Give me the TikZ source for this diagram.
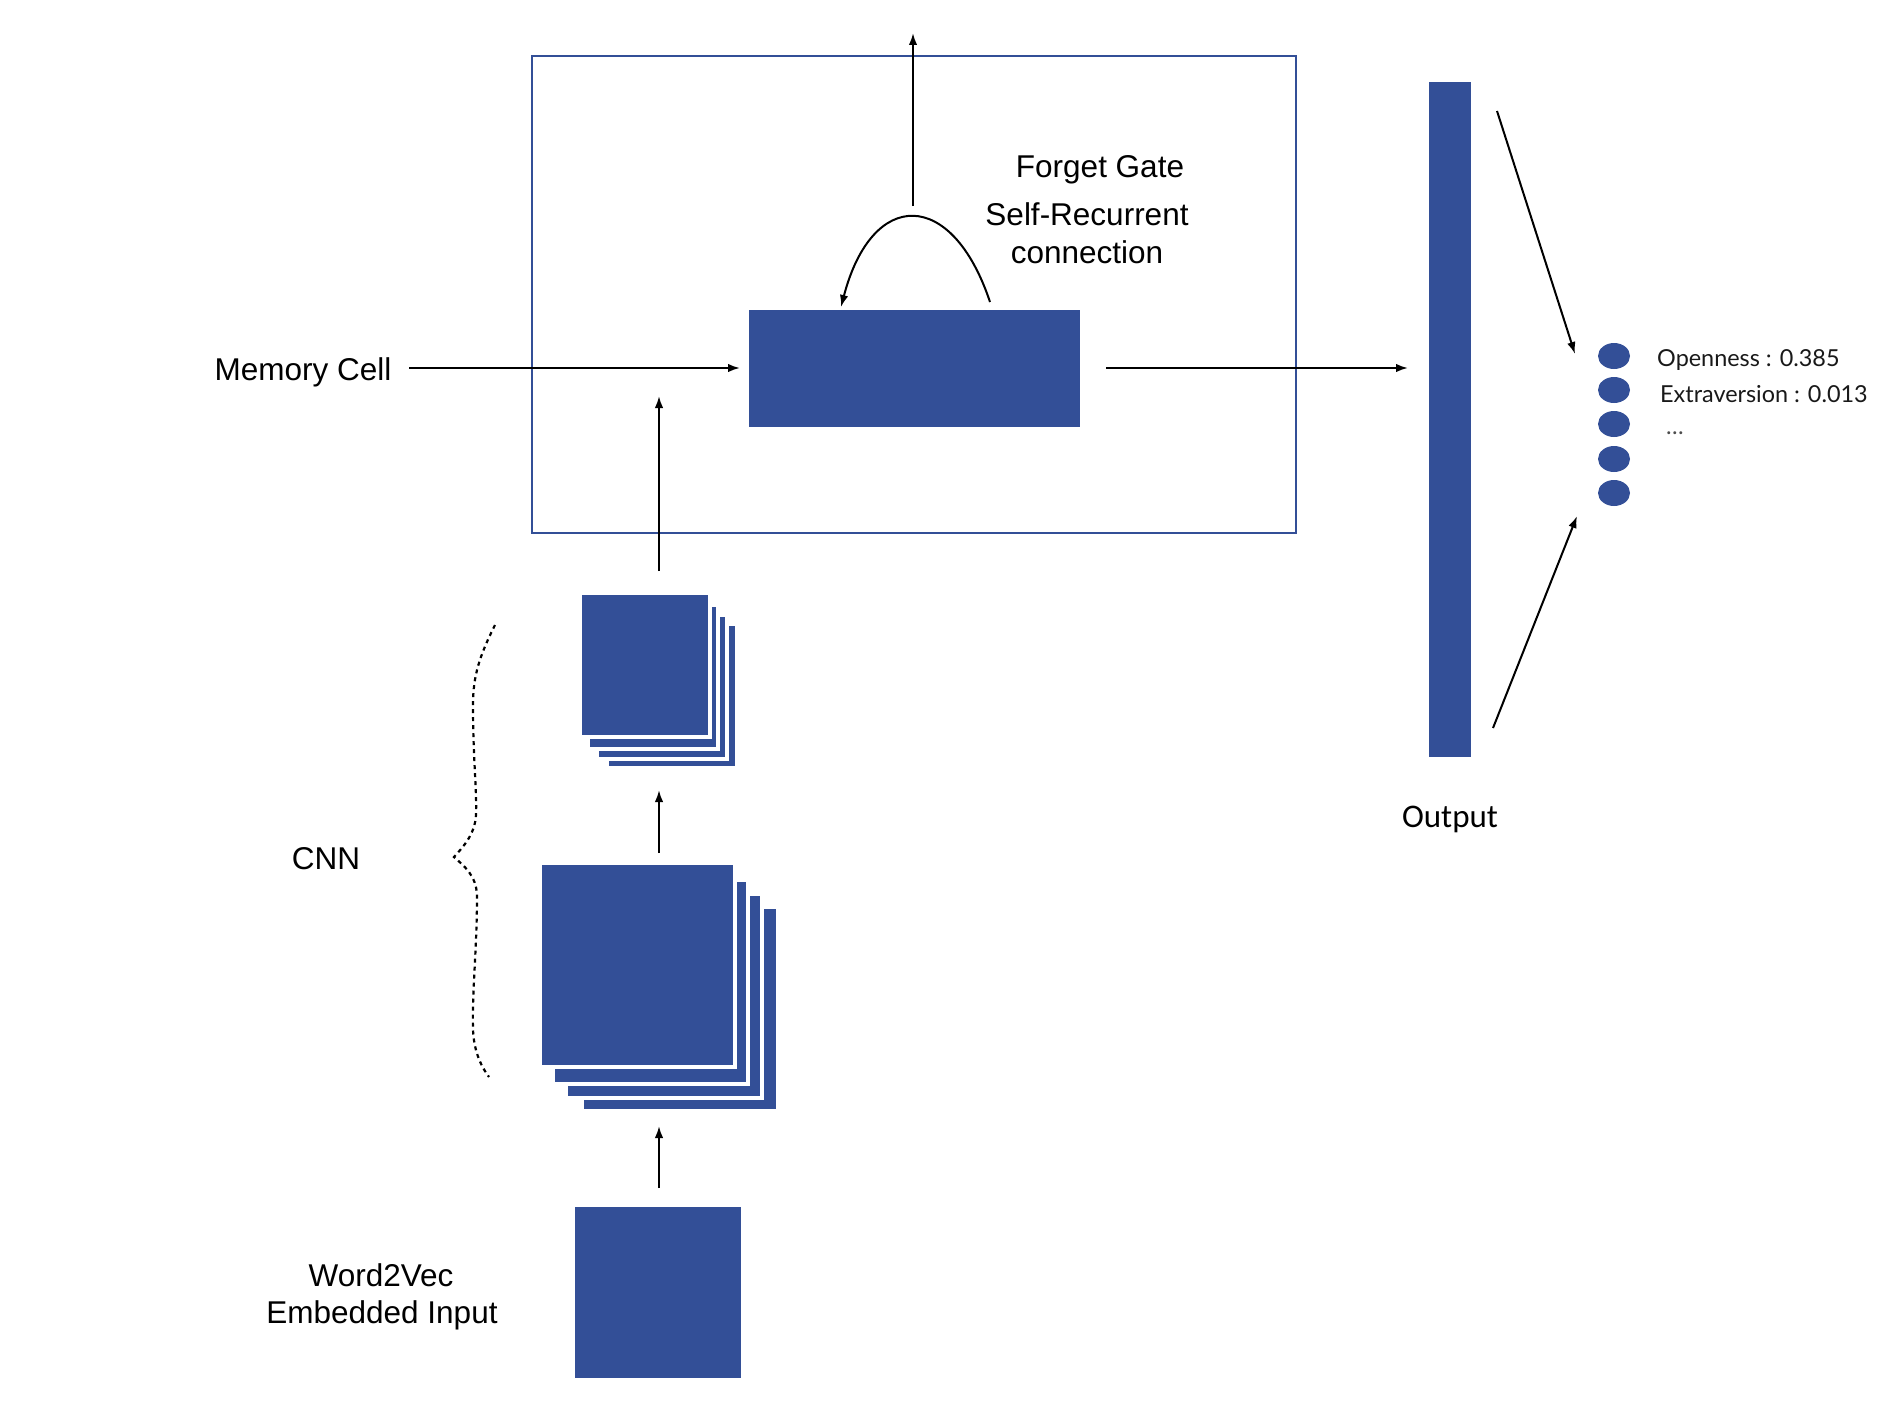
\documentclass[tikz,border=0pt]{standalone}
\usepackage{fontspec}
\setmainfont{Liberation Sans}
\newfontfamily\latofont{Lato}
\newfontfamily\carlitofont{Carlito}
\usetikzlibrary{arrows.meta,shapes.geometric}
\definecolor{cblue}{RGB}{51,79,151}
\tikzset{
  blk/.style={fill=cblue, inner sep=0pt, outer sep=0pt},
  layer/.style={fill=cblue, draw=white, line width=4pt, inner sep=0pt, outer sep=0pt},
  lbl/.style={inner sep=0pt, anchor=base, font=\fontsize{31.5}{37}\selectfont},
  small/.style={inner sep=0pt, anchor=base west, font=\latofont\fontsize{23.4}{28}\selectfont, text=black!90},
  arr/.style={line width=2pt, -{Latex[length=12pt,width=8.5pt]}},
  dot/.style={ellipse, fill=cblue, inner sep=0pt, minimum width=32pt, minimum height=26pt},
}
\begin{document}
\begin{tikzpicture}[x=1pt,y=-1pt]
\useasboundingbox (0,0) rectangle (1892,1418);
% LSTM box
\node[draw=cblue, line width=2pt, inner sep=0pt, minimum width=764pt, minimum height=477pt] (lstm) at (914,294.5) {};
% memory block
\node[blk, minimum width=331pt, minimum height=117pt] (mem) at (914.5,368.5) {};
% output bar
\node[blk, minimum width=42pt, minimum height=675pt] (out) at (1450,419.5) {};
% input square
\node[blk, minimum width=166pt, minimum height=171pt] (inp) at (658,1292.5) {};
% large stack (back to front)
\node[layer, minimum width=196pt, minimum height=204pt] (bl3) at (680,1009) {};
\node[layer, minimum width=196pt, minimum height=204pt] (bl2) at (664,996) {};
\node[layer, minimum width=195pt, minimum height=204pt] (bl1) at (650.5,982) {};
\node[layer, minimum width=195pt, minimum height=204pt] (bl0) at (637.5,965) {};
% small stack (back to front)
\node[layer, minimum width=130pt, minimum height=144pt] (sl3) at (672,696) {};
\node[layer, minimum width=130pt, minimum height=144pt] (sl2) at (662,687) {};
\node[layer, minimum width=130pt, minimum height=144pt] (sl1) at (653,677) {};
\node[layer, minimum width=130pt, minimum height=144pt] (sl0) at (645,665) {};
% output dots
\node[dot] (d1) at (1614,356) {};
\node[dot] (d2) at (1614,390) {};
\node[dot] (d3) at (1614,424) {};
\node[dot] (d4) at (1614,459) {};
\node[dot] (d5) at (1614,493) {};
% labels
\node[lbl] (tmem) at (303,380) {Memory Cell};
\node[lbl] (tfg) at (1100,177) {Forget Gate};
\node[lbl] (tsr) at (1087,225) {Self-Recurrent};
\node[lbl] (tcon) at (1087,263) {connection};
\node[lbl] (tw2v) at (381,1286) {Word2Vec};
\node[lbl] (temb) at (382,1323) {Embedded Input};
\node[lbl] (tcnn) at (326,869) {CNN};
\node[lbl, font=\carlitofont\fontsize{33}{38}\selectfont] (tout) at (1450,827) {Output};
\node[small] (topen) at (1657,366) {Openness : 0.385};
\node[small] (textra) at (1660,402) {Extraversion : 0.013};
\node[small, text=black!70] (tdots) at (1666,434) {\ldots};
% coordinates for connectors
\coordinate (m0) at (409,368);
\coordinate (m1) at (740,368);
\coordinate (r0) at (1106,368);
\coordinate (r1) at (1408,368);
\coordinate (u0) at (659,571);
\coordinate (u1) at (659,396);
\coordinate (s0) at (659,853);
\coordinate (s1) at (659,790);
\coordinate (i0) at (659,1188);
\coordinate (i1) at (659,1126);
\coordinate (t0) at (913,206);
\coordinate (t1) at (913,33);
\coordinate (c0) at (990,302);
\coordinate (c1) at (841,307);
\coordinate (o0) at (1497,111);
\coordinate (o1) at (1575,354);
\coordinate (p0) at (1493,728);
\coordinate (p1) at (1577,516);
% connectors
\draw[arr] (m0) -- (m1);
\draw[arr] (r0) -- (r1);
\draw[arr] (u0) -- (u1);
\draw[arr] (s0) -- (s1);
\draw[arr] (i0) -- (i1);
\draw[arr] (t0) -- (t1);
\draw[arr] (c0) .. controls (952,188) and (872,188) .. (c1);
\draw[arr] (o0) -- (o1);
\draw[arr] (p0) -- (p1);
% dotted brace
\draw[line width=2.2pt, dash pattern=on 4pt off 4pt]
  (495,625) .. controls (480,655) and (473,675) .. (473,705)
  .. controls (473,760) and (477,790) .. (476,815)
  .. controls (475,835) and (462,848) .. (454,857)
  .. controls (464,866) and (476,875) .. (477,895)
  .. controls (477,950) and (472,990) .. (473,1030)
  .. controls (474,1050) and (480,1065) .. (489,1077);
\end{tikzpicture}
\end{document}
